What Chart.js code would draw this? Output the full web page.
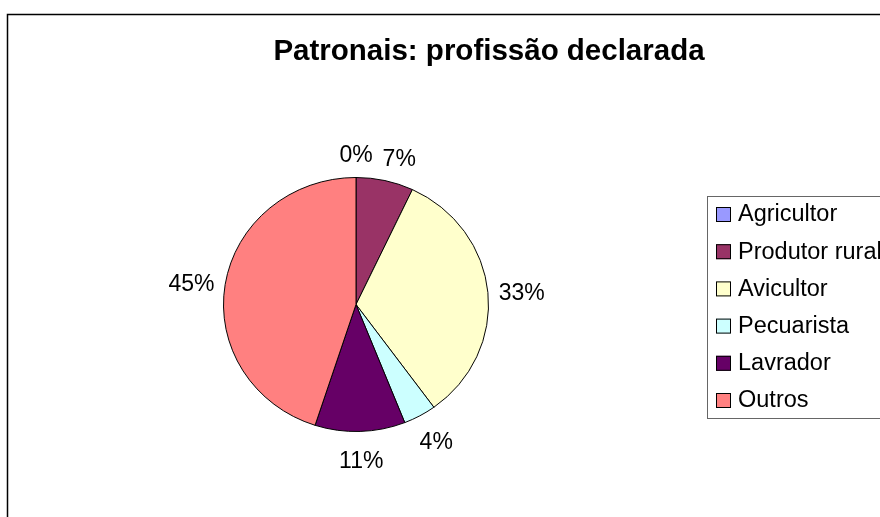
<!DOCTYPE html>
<html>
<head>
<meta charset="utf-8">
<title>Patronais: profissão declarada</title>
<script src="https://cdn.jsdelivr.net/npm/chart.js@4.4.1/dist/chart.umd.min.js"></script>
<style>
    html, body { margin: 0; padding: 0; background: #fff; }
    canvas { display: block; }
</style>
</head>
<body>
<canvas id="pieChart" width="880" height="517"></canvas>
<script>
const chartTitle = 'Patronais: profissão declarada';
const categories = ['Agricultor', 'Produtor rural', 'Avicultor', 'Pecuarista', 'Lavrador', 'Outros'];
const percentages = [0, 7, 33, 4, 11, 45];
const sliceColors = ['#9999FF', '#993366', '#FFFFCC', '#CCFFFF', '#660066', '#FF8080'];

const FONT = '"Liberation Sans", Arial, sans-serif';
const SQUASH = 0.9586; // pie is a touch flatter than round

// frame, title, outside labels and the boxed legend are drawn by hand
const decorations = {
    id: 'decorations',
    beforeDraw(chart) {
        const ctx = chart.ctx;
        ctx.save();
        ctx.fillStyle = '#fff';
        ctx.fillRect(0, 0, chart.width, chart.height);
        ctx.restore();
    },
    beforeDatasetsDraw(chart) {
        const ctx = chart.ctx;
        const arc = chart.getDatasetMeta(0).data[0];
        ctx.save();
        ctx.translate(0, arc.y);
        ctx.scale(1, SQUASH);
        ctx.translate(0, -arc.y);
    },
    afterDatasetsDraw(chart) {
        chart.ctx.restore();
    },
    afterDraw(chart) {
        const ctx = chart.ctx;
        ctx.save();

        // outer frame (runs off the right and bottom edges)
        ctx.strokeStyle = '#000';
        ctx.lineWidth = 1.5;
        ctx.strokeRect(7.5, 14.5, chart.width + 20, chart.height + 20);

        // title
        ctx.fillStyle = '#000';
        ctx.font = 'bold 29.5px ' + FONT;
        ctx.textAlign = 'center';
        ctx.textBaseline = 'middle';
        ctx.fillText(chartTitle, 489, 52);

        // percentage labels outside the pie
        const meta = chart.getDatasetMeta(0);
        const values = chart.data.datasets[0].data;
        ctx.font = '23px ' + FONT;
        const placed = [];
        meta.data.forEach((arc, i) => {
            const mid = (arc.startAngle + arc.endAngle) / 2;
            const dx = Math.cos(mid), dy = Math.sin(mid);
            const text = values[i] + '%';
            const w = ctx.measureText(text).width;
            const h = 18;
            let x = arc.x + dx * (arc.outerRadius + 34);
            const y = arc.y + 4 + dy * (arc.outerRadius * SQUASH + 26);
            placed.forEach(p => {
                if (Math.abs(p.y - y) < h) {
                    const gap = Math.abs(x - p.x) - (w + p.w) / 2;
                    if (gap < 10) {
                        x += (dx >= 0 ? 1 : -1) * (10 - gap);
                    }
                }
            });
            placed.push({ x, y, w });
            ctx.fillText(text, x, y);
        });

        // legend
        const lx = 707, ly = 196, lh = 222;
        ctx.strokeStyle = '#666';
        ctx.lineWidth = 1;
        ctx.strokeRect(lx + 0.5, ly + 0.5, chart.width, lh);
        ctx.textAlign = 'left';
        ctx.font = '23.5px ' + FONT;
        const colors = chart.data.datasets[0].backgroundColor;
        chart.data.labels.forEach((label, i) => {
            const cy = 214 + i * 37.2;
            ctx.fillStyle = colors[i];
            ctx.fillRect(716, cy - 7, 15, 15);
            ctx.strokeStyle = '#000';
            ctx.lineWidth = 1;
            ctx.strokeRect(716.5, cy - 6.5, 14, 14);
            ctx.fillStyle = '#000';
            ctx.fillText(label, 738, cy + 1);
        });

        ctx.restore();
    }
};

new Chart(document.getElementById('pieChart').getContext('2d'), {
    type: 'pie',
    data: {
        labels: categories,
        datasets: [{
            data: percentages,
            backgroundColor: sliceColors,
            borderColor: '#000',
            borderWidth: 1
        }]
    },
    options: {
        responsive: false,
        animation: false,
        layout: {
            padding: { left: 223, right: 391, top: 171.5, bottom: 79.5 }
        },
        plugins: {
            legend: { display: false },
            title: { display: false },
            tooltip: { enabled: false }
        }
    },
    plugins: [decorations]
});
</script>
</body>
</html>
